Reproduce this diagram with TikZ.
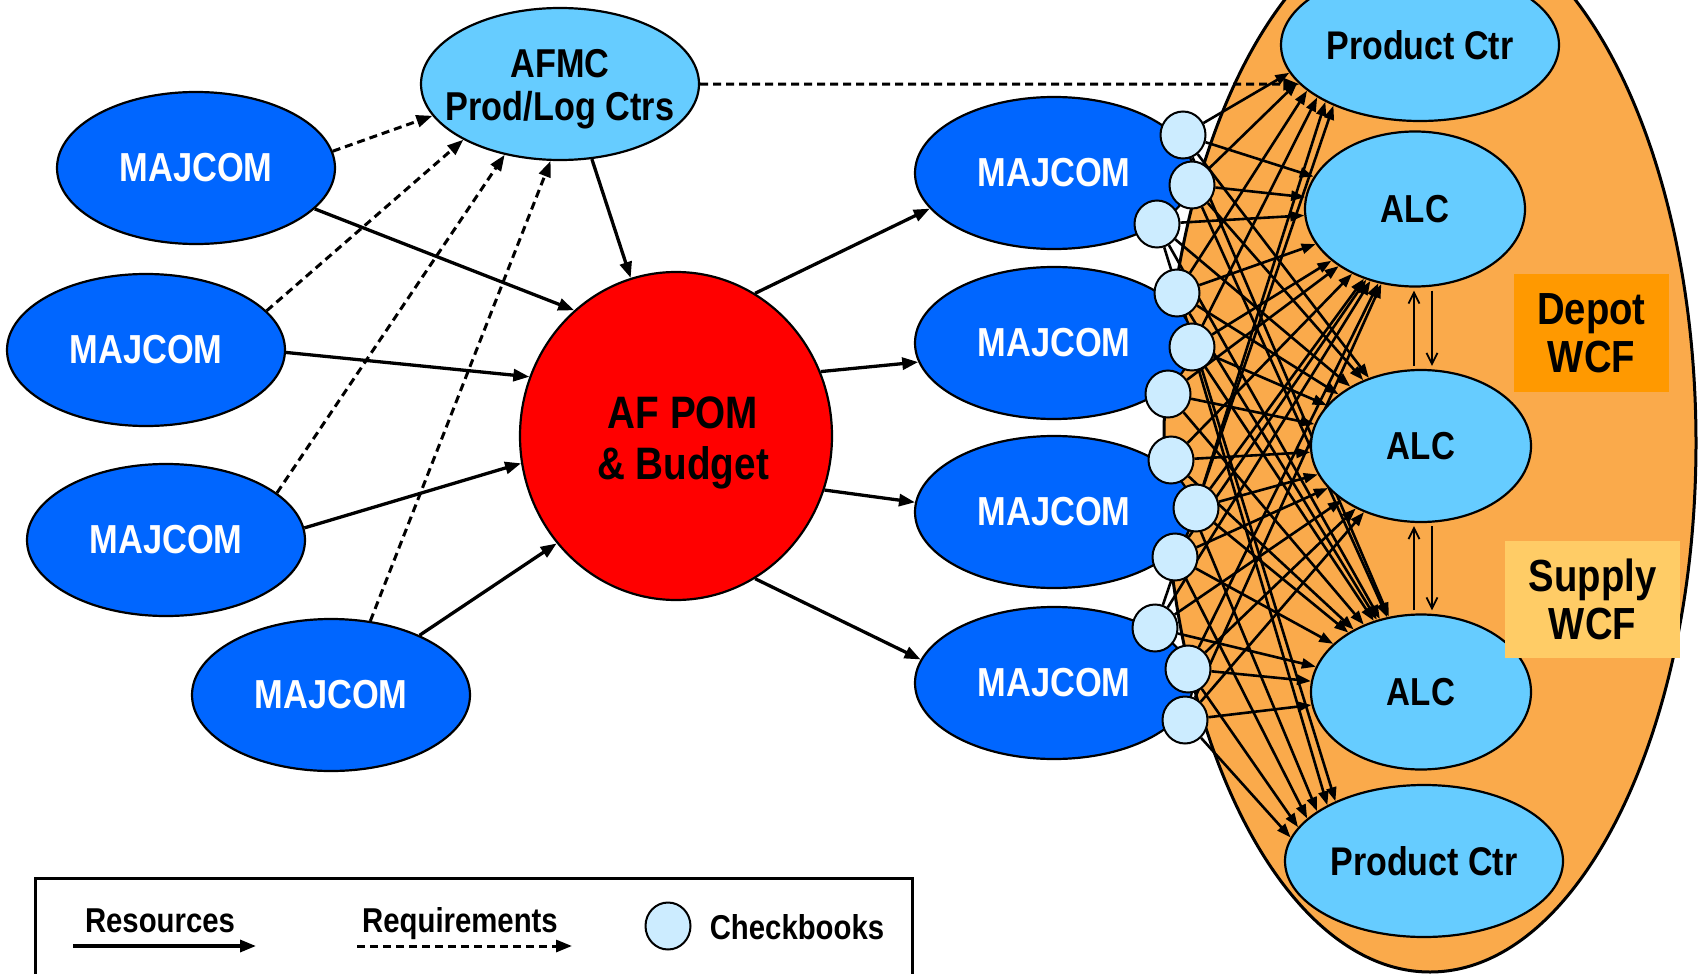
\documentclass[tikz,border=0pt]{standalone}
\usepackage{fontspec}
\setmainfont{Liberation Sans}[FakeStretch=0.85]
\usetikzlibrary{shapes.geometric,arrows.meta}
\pgfdeclarelayer{bg}
\pgfdeclarelayer{web}
\pgfsetlayers{bg,web,main}
\definecolor{majblue}{RGB}{0,102,255}
\definecolor{lightblue}{RGB}{102,204,255}
\definecolor{cbblue}{RGB}{204,236,255}
\definecolor{wcforange}{RGB}{250,170,75}
\definecolor{depotorange}{RGB}{255,153,0}
\definecolor{supplyyellow}{RGB}{255,204,102}
\definecolor{pomred}{RGB}{255,0,0}
\begin{document}
\begin{tikzpicture}[x=1pt,y=-1pt,
  oval/.style={ellipse, draw=black, line width=2.2pt, inner sep=0pt, minimum width=278pt, minimum height=152pt, align=center},
  majcom/.style={oval, fill=majblue, text=white, font=\bfseries\fontsize{40.5}{46}\selectfont},
  target/.style={oval, fill=lightblue, text=black},
  pcfont/.style={font=\bfseries\fontsize{40}{46}\selectfont},
  alcfont/.style={font=\bfseries\fontsize{39}{45}\selectfont, minimum width=220pt, minimum height=155pt},
  cb/.style={ellipse, draw=black, line width=2pt, fill=cbblue, inner sep=0pt, minimum width=45pt, minimum height=47pt},
  res/.style={line width=3.3pt, -{Triangle[length=16pt,width=12pt]}},
  req/.style={line width=3pt, dash pattern=on 8pt off 5pt, -{Triangle[length=16pt,width=12pt]}},
  webarrow/.style={line width=2.6pt, -{Triangle[length=14pt,width=10pt]}},
  swap/.style={line width=1.8pt, shorten >=3pt, shorten <=3pt, -{Straight Barb[length=11pt,width=11pt]}},
  wcfbox/.style={inner sep=0pt, align=center, font=\bfseries\fontsize{45}{48}\selectfont},
  legtext/.style={anchor=base, font=\bfseries\fontsize{34.5}{40}\selectfont}
]
\useasboundingbox (0,0) rectangle (1698,974);

% big orange WCF ellipse
\begin{pgfonlayer}{bg}
\node[ellipse, draw=black, line width=3pt, fill=wcforange, minimum width=532pt, minimum height=1058pt, inner sep=0pt] (wcf) at (1430,443) {};
\end{pgfonlayer}

% left MAJCOMs
\node[majcom] (L1) at (196,168) {MAJCOM};
\node[majcom] (L2) at (146,350) {MAJCOM};
\node[majcom] (L3) at (166,540) {MAJCOM};
\node[majcom] (L4) at (331,695) {MAJCOM};

% AFMC
\node[oval, fill=lightblue, font=\bfseries\fontsize{40.3}{43}\selectfont] (afmc) at (560,84) {\rule{0pt}{39pt}\makebox[0pt]{AFMC}\\\makebox[0pt]{Prod/Log Ctrs}};

% AF POM
\node[ellipse, draw=black, line width=2.2pt, fill=pomred, minimum width=312pt, minimum height=328pt, inner sep=0pt, align=center, font=\bfseries\fontsize{45.5}{51}\selectfont] (pom) at (676,436) {\rule{0pt}{46pt}\hspace*{14pt}AF POM\\\hspace*{14pt}\& Budget};

% right MAJCOMs
\node[majcom] (R1) at (1054,173) {MAJCOM};
\node[majcom] (R2) at (1054,343) {MAJCOM};
\node[majcom] (R3) at (1054,512) {MAJCOM};
\node[majcom] (R4) at (1054,683) {MAJCOM};

% targets
\node[target, pcfont] (pc1) at (1420,45) {Product Ctr};
\node[target, alcfont] (alc1) at (1415,209) {ALC};
\node[target, alcfont, minimum height=152pt] (alc2) at (1421,446) {ALC};
\node[target, alcfont] (alc3) at (1421,692) {ALC};
\node[target, pcfont] (pc2) at (1424,861) {Product Ctr};

% WCF labels
\node[wcfbox, fill=depotorange, minimum width=155pt, minimum height=118pt] (depot) at (1591.5,333) {Depot\\WCF};
\node[wcfbox, fill=supplyyellow, minimum width=175pt, minimum height=117pt] (supply) at (1592.5,599.5) {Supply\\WCF};

% checkbooks
\node[cb] (cb1) at (1183,135) {};
\node[cb] (cb2) at (1192,185) {};
\node[cb] (cb3) at (1157,224) {};
\node[cb] (cb4) at (1177,293) {};
\node[cb] (cb5) at (1192,347) {};
\node[cb] (cb6) at (1168,394) {};
\node[cb] (cb7) at (1171,460) {};
\node[cb] (cb8) at (1196,508) {};
\node[cb] (cb9) at (1175,557) {};
\node[cb] (cb10) at (1155,628) {};
\node[cb] (cb11) at (1188,669) {};
\node[cb] (cb12) at (1185,720) {};

% web of resource flows
\begin{pgfonlayer}{web}
\foreach \i in {1,...,12}{
  \draw[webarrow] (cb\i) -- (alc1);
  \draw[webarrow] (cb\i) -- (alc2);
  \draw[webarrow] (cb\i) -- (alc3);
}
\foreach \i/\a in {1/-168, 2/-163, 4/-158, 6/-153, 8/-149, 10/-145}{
  \draw[webarrow] (cb\i) -- (pc1.\a);
}
\foreach \i/\b in {3/146, 5/150, 7/155, 9/160, 11/165, 12/170}{
  \draw[webarrow] (cb\i) -- (pc2.\b);
}
\end{pgfonlayer}

% resources (solid)
\draw[res] (L1.-19.5) -- (pom.129);
\draw[res] (L2.-1) -- (pom.158);
\draw[res] (L3.5) -- (pom.-170);
\draw[res] (L4.34.6) -- (pom.-138.4);
\draw[res] (afmc.-67) -- (pom.106.4);
\draw[res] (pom.61) -- (R1.-164.2);
\draw[res] (pom.24) -- (R2.-172.7);
\draw[res] (pom.-20.5) -- (R3.176);
\draw[res] (pom.-61) -- (R4.170);

% requirements (dashed)
\draw[req] (L1.7.6) -- (afmc.-166.7);
\draw[req] (L2.18.4) -- (afmc.-150.3);
\draw[req] (L3.23.5) -- (afmc.-128.9);
\draw[req] (L4.62.8) -- (afmc.-97.3);
\draw[req] (afmc.east) -- (pc1.-162.8);

% ALC exchanges
\draw[swap] ([xshift=-7pt]alc2.north) -- ([xshift=-7pt]alc2.north |- alc1.south);
\draw[swap] ([xshift=11pt]alc2.north |- alc1.south) -- ([xshift=11pt]alc2.north);
\draw[swap] ([xshift=-7pt]alc3.north) -- ([xshift=-7pt]alc3.north |- alc2.south);
\draw[swap] ([xshift=11pt]alc3.north |- alc2.south) -- ([xshift=11pt]alc3.north);

% legend
\draw[line width=3pt] (35,878) rectangle (912,1000);
\node[legtext] (lres) at (160,932) {Resources};
\coordinate (ra) at (73,946);
\coordinate (rb) at (256,946);
\draw[res] (ra) -- (rb);
\node[legtext] (lreq) at (460,932) {Requirements};
\coordinate (qa) at (357,946);
\coordinate (qb) at (572,946);
\draw[req] (qa) -- (qb);
\node[cb] (lcb) at (668,926) {};
\node[legtext] (lck) at (797,939) {Checkbooks};
\end{tikzpicture}
\end{document}
